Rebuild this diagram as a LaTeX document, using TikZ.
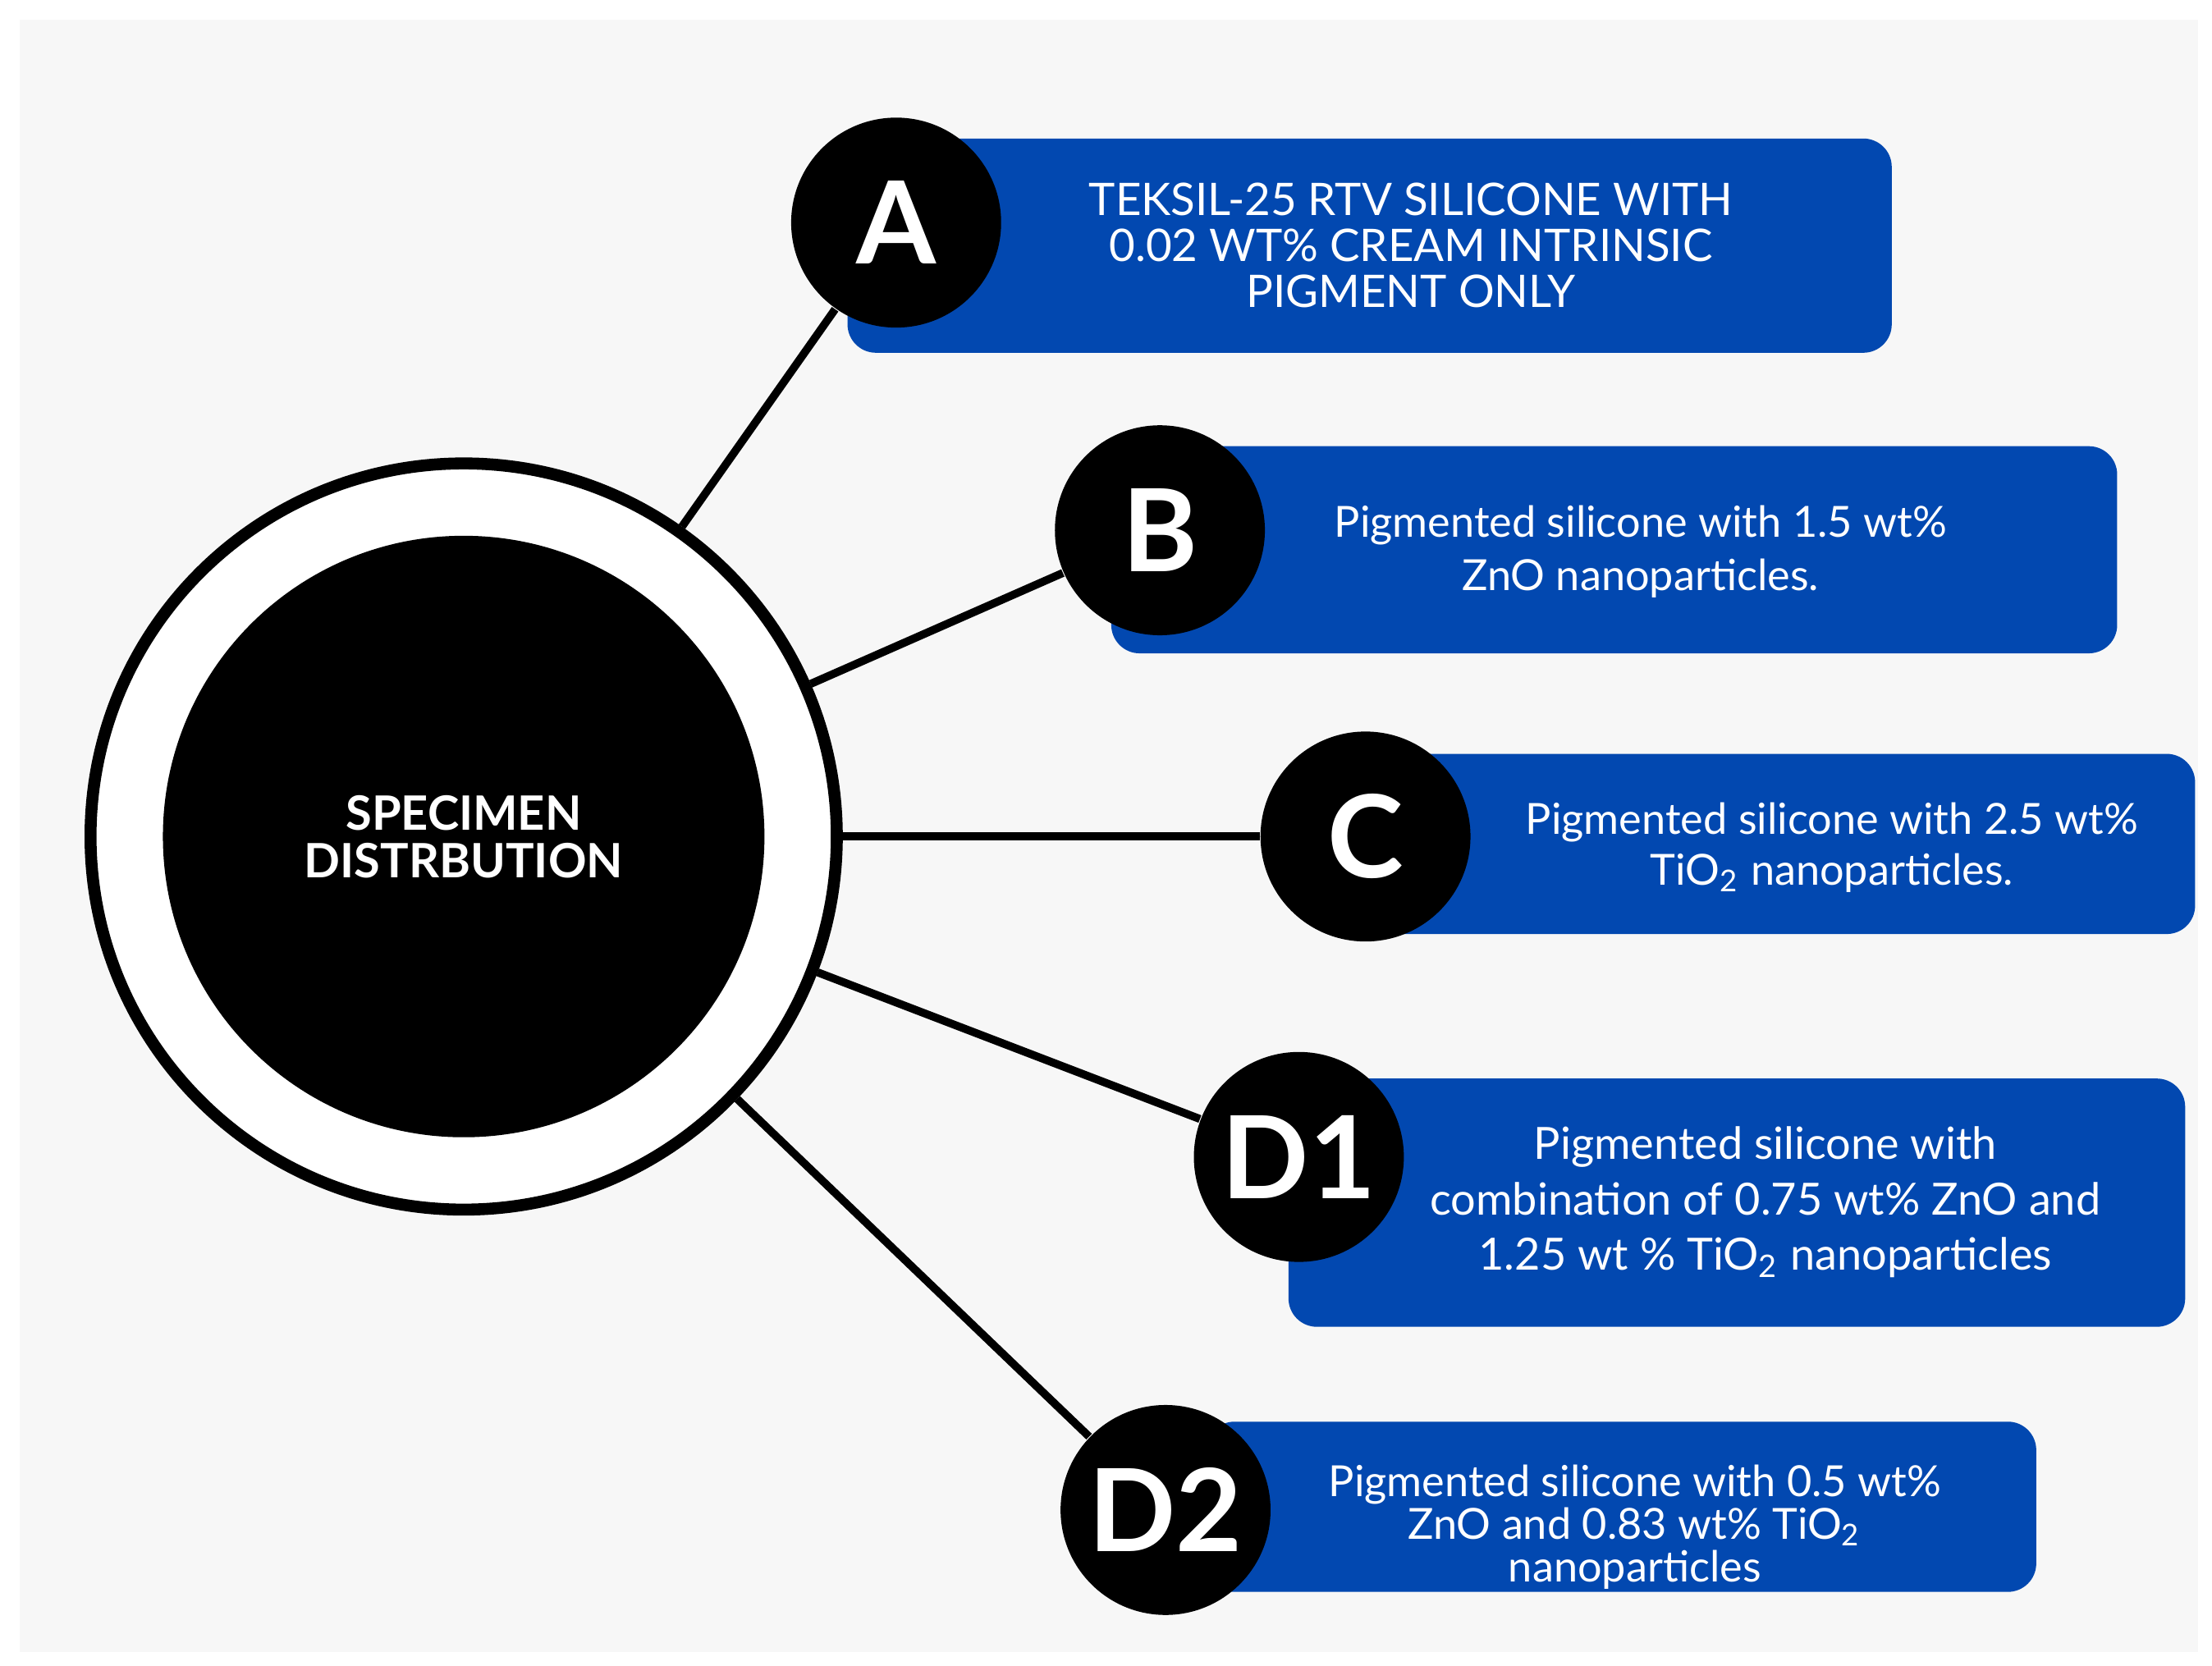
\documentclass[tikz,border=0pt]{standalone}
\usepackage{fontspec}
\setmainfont{Lato}
\usetikzlibrary{positioning}
\definecolor{panelGray}{RGB}{247, 247, 247}
\definecolor{boxBlue}{RGB}{2, 72, 176}
\begin{document}
\begin{tikzpicture}[x=0.01cm, y=-0.01cm,
    badge/.style={circle, fill=black, minimum size=1.48cm, inner sep=0pt,
                  text=white, font=\fontsize{23}{23}\selectfont\bfseries},
    infobox/.style={fill=boxBlue, rounded corners=0.2cm, inner sep=0pt, anchor=north west},
    infotext/.style={text=white, align=center, font=\fontsize{8.6}{9.4}\selectfont},
    spoke/.style={line width=1.6pt, draw=black}]
    \useasboundingbox (0,0) rectangle (1560,1175);
    \fill[panelGray] (14,14) rectangle (1550,1165);

    % Info boxes
    \node[infobox, minimum width=7.36cm, minimum height=1.51cm] (boxA) at (597,97) {};
    \node[infobox, minimum width=7.09cm, minimum height=1.46cm] (boxB) at (783,314) {};
    \node[infobox, minimum width=6.17cm, minimum height=1.27cm] (boxC) at (930,531) {};
    \node[infobox, minimum width=6.32cm, minimum height=1.75cm] (boxD1) at (908,760) {};
    \node[infobox, minimum width=5.85cm, minimum height=1.20cm] (boxD2) at (850,1002) {};

    % Centre
    \node[circle, draw=black, line width=2.4pt, fill=white, minimum size=5.26cm] (ring) at (327,590) {};
    \node[circle, fill=black, minimum size=4.24cm, text=white, align=center,
          font=\fontsize{9.5}{9.5}\selectfont\bfseries] (core) at (327,590) {SPECIMEN\\DISTRBUTION};

    % Badges
    \node[badge] (A) at (632,157) {A};
    \node[badge] (B) at (818,374) {B};
    \node[badge] (C) at (963,590) {C};
    \node[badge] (D1) at (916,816) {D1};
    \node[badge] (D2) at (822,1065) {D2};

    % Spokes
    \draw[spoke] (ring) -- (A);
    \draw[spoke] (ring) -- (B);
    \draw[spoke] (ring) -- (C);
    \draw[spoke] (ring) -- (D1);
    \draw[spoke] (ring) -- (D2);

    % Texts
    \node[infotext, font=\fontsize{9}{9.2}\selectfont] (textA) at (995,173) {TEKSIL-25 RTV SILICONE WITH\\0.02 WT\% CREAM INTRINSIC\\PIGMENT ONLY};
    \node[infotext, font=\fontsize{8.6}{10.6}\selectfont] (textB) at (1157,389) {Pigmented silicone with 1.5 wt\%\\ZnO nanoparticles.};
    \node[infotext, font=\fontsize{8.6}{10.2}\selectfont] (textC) at (1292,598) {Pigmented silicone with 2.5 wt\%\\TiO\textsubscript{2} nanoparticles.};
    \node[infotext, font=\fontsize{8.9}{11.1}\selectfont] (textD1) at (1245,848) {Pigmented silicone with\\combination of 0.75 wt\% ZnO and\\1.25 wt \% TiO\textsubscript{2} nanoparticles};
    \node[infotext, font=\fontsize{8.6}{8.6}\selectfont] (textD2) at (1153,1077) {Pigmented silicone with 0.5 wt\%\\ZnO and 0.83 wt\% TiO\textsubscript{2}\\nanoparticles};
\end{tikzpicture}
\end{document}
